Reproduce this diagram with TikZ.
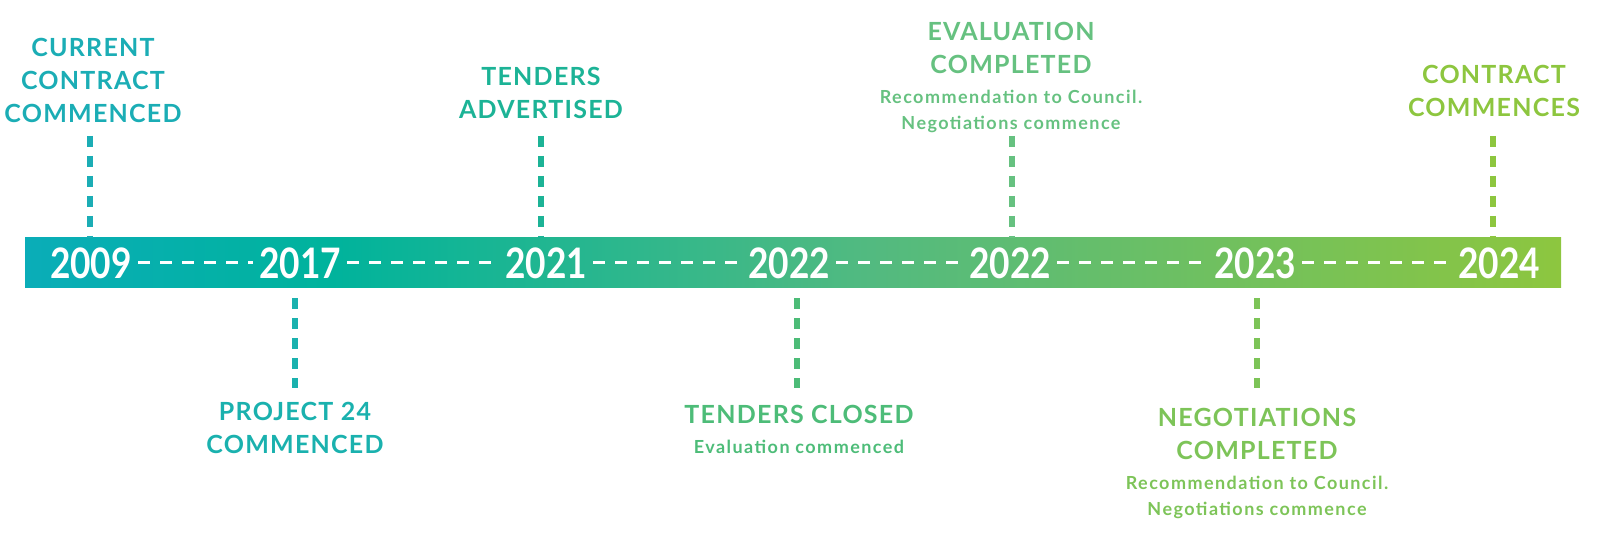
\documentclass[tikz,border=0pt]{standalone}
\usepackage{fontspec}
\setmainfont{Lato}
\newfontfamily\yearfamily{Lato}[FakeStretch=0.84]
\usepackage{tikz}
\usetikzlibrary{positioning}
\usepackage{xcolor}
\definecolor{barA}{HTML}{0AADB8}
\definecolor{barB}{HTML}{00B39C}
\definecolor{barC}{HTML}{52BA80}
\definecolor{barD}{HTML}{8DC63F}
\definecolor{evA}{HTML}{1BADB5}
\definecolor{evB}{HTML}{1AB1AE}
\definecolor{evC}{HTML}{1CB396}
\definecolor{evD}{HTML}{4DBC78}
\definecolor{evE}{HTML}{66C180}
\definecolor{evF}{HTML}{7DC458}
\definecolor{evG}{HTML}{8DC63F}
\pgfdeclarehorizontalshading{timebar}{100bp}{
    color(0bp)=(barA); color(25bp)=(barA); color(35bp)=(barB);
    color(52.5bp)=(barC); color(75bp)=(barD); color(100bp)=(barD)}
\newcommand{\yearfont}{\yearfamily\fontsize{21}{21}\selectfont\bfseries}
\newcommand{\eventfont}{\fontsize{12.5}{16.5}\selectfont\bfseries\addfontfeatures{LetterSpace=5}}
\newcommand{\notefont}{\fontsize{9}{13}\selectfont\bfseries\addfontfeatures{LetterSpace=8}}
\tikzset{
    bar/.style={
        shading=timebar,
        minimum width=768pt,
        minimum height=25pt,
        inner sep=0pt
    },
    year/.style={
        text=white,
        font=\yearfont,
        inner sep=0pt
    },
    yearlink/.style={
        white,
        line width=1.5pt,
        dash pattern=on 6pt off 5pt,
        shorten <=3pt,
        shorten >=3pt
    },
    stem/.style={
        line width=3pt,
        dash pattern=on 5.5pt off 4.5pt
    },
    event/.style={
        font=\eventfont,
        align=center,
        inner sep=0pt,
        anchor=north
    },
    eventnote/.style={
        font=\notefont,
        align=center,
        inner sep=0pt,
        below=7.5pt of #1
    }
}

\begin{document}
\begin{tikzpicture}[x=0.5pt,y=-0.5pt]

    \useasboundingbox (0,0) rectangle (1600,533);

    % Bar
    \node[bar] (bar) at (793,263) {};

    % Years
    \node[year] (y2009) at (91,263) {2009};
    \node[year] (y2017) at (300,263) {2017};
    \node[year] (y2021) at (546,263) {2021};
    \node[year] (y2022a) at (789,263) {2022};
    \node[year] (y2022b) at (1010,263) {2022};
    \node[year] (y2023) at (1255,263) {2023};
    \node[year] (y2024) at (1499,263) {2024};

    \draw[yearlink] (y2009) -- (y2017);
    \draw[yearlink] (y2017) -- (y2021);
    \draw[yearlink] (y2021) -- (y2022a);
    \draw[yearlink] (y2022a) -- (y2022b);
    \draw[yearlink] (y2022b) -- (y2023);
    \draw[yearlink] (y2023) -- (y2024);

    % Events above
    \node[event,evA] (current) at (93,38)
        {CURRENT\\CONTRACT\\COMMENCED};
    \node[event,evC] (advertised) at (541,67)
        {TENDERS\\ADVERTISED};
    \node[event,evE] (evaluation) at (1011,22)
        {EVALUATION\\COMPLETED};
    \node[eventnote=evaluation,evE] (evaluationnote)
        {Recommendation to Council.\\Negotiations commence};
    \node[event,evG] (commences) at (1494,65)
        {CONTRACT\\COMMENCES};

    % Events below
    \node[event,evB] (project) at (295,402)
        {PROJECT 24\\COMMENCED};
    \node[event,evD] (closed) at (799,405)
        {TENDERS CLOSED};
    \node[eventnote=closed,evD] (closednote)
        {Evaluation commenced};
    \node[event,evF] (negotiations) at (1257,408)
        {NEGOTIATIONS\\COMPLETED};
    \node[eventnote=negotiations,evF] (negotiationsnote)
        {Recommendation to Council.\\Negotiations commence};

    % Stems
    \coordinate (s2009) at (90,136);
    \coordinate (s2017) at (295,388);
    \coordinate (s2021) at (541,136);
    \coordinate (s2022a) at (797,388);
    \coordinate (s2022b) at (1012,136);
    \coordinate (s2023) at (1257,388);
    \coordinate (s2024) at (1493,136);

    \draw[stem,evA] (s2009) -- (s2009 |- bar.north);
    \draw[stem,evC] (s2021) -- (s2021 |- bar.north);
    \draw[stem,evE] (s2022b) -- (s2022b |- bar.north);
    \draw[stem,evG] (s2024) -- (s2024 |- bar.north);

    \draw[stem,evB] ([yshift=-5pt]s2017 |- bar.south) -- (s2017);
    \draw[stem,evD] ([yshift=-5pt]s2022a |- bar.south) -- (s2022a);
    \draw[stem,evF] ([yshift=-5pt]s2023 |- bar.south) -- (s2023);

\end{tikzpicture}
\end{document}
